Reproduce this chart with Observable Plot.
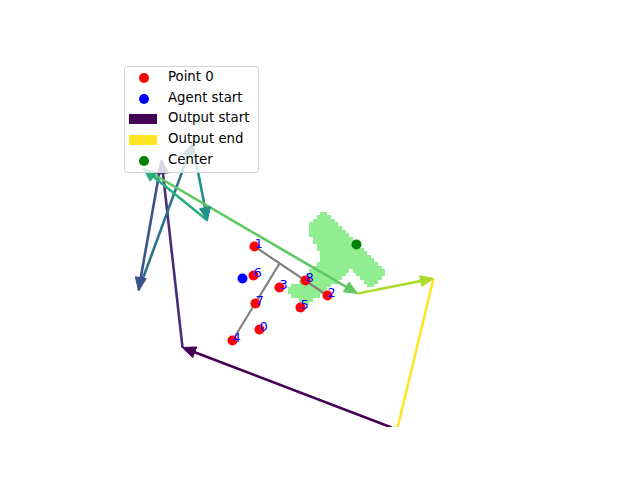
<!DOCTYPE html>
<html>
<head>
<meta charset="utf-8">
<script src="https://cdn.jsdelivr.net/npm/d3@7"></script>
<script src="https://cdn.jsdelivr.net/npm/@observablehq/plot@0.6"></script>
<style>
  body { margin: 0; background: #fff; font-family: "DejaVu Sans", sans-serif; }
  #wrap { position: relative; width: 640px; height: 480px; }
  #legend { position: absolute; left: 124px; top: 66px; width: 133px; height: 105px;
    background: rgba(255,255,255,0.8); border: 1px solid #d3d3d3; border-radius: 3px;
    font-size: 13.3px; color: #000; }
  .row { position: absolute; left: 0; width: 133px; height: 16px; }
  .row .lab { position: absolute; left: 43px; top: -1px; white-space: nowrap; line-height: 16px; }
  .row .dot { position: absolute; left: 14px; top: 3px; width: 10px; height: 10px; border-radius: 50%; }
  .row .patch { position: absolute; left: 4px; top: 3px; width: 28px; height: 10px; }
</style>
</head>
<body>
<div id="wrap">
  <div id="chart"></div>
  <div id="legend"></div>
</div>
<script>
// ---- data (units) ----
const pointIds = [0, 1, 2, 3, 4, 5, 6, 7, 8];
const pointX = [17.9, 17.4, 24.7, 19.9, 15.2, 22.0, 17.3, 17.5, 22.5];
const pointY = [9.8, 18.1, 13.2, 14.0, 8.7, 12.0, 15.2, 12.4, 14.7];

const agentStartX = [16.2];
const agentStartY = [14.9];

const centerX = [27.6];
const centerY = [18.3];

// output path (vertices), coloured start -> end with viridis
const pathX = [31.9, 10.2, 8.1, 5.8, 11.2, 12.7, 6.3, 27.7, 35.3, 31.4];
const pathY = [-0.3, 8.0, 26.7, 13.7, 28.4, 20.7, 25.9, 13.4, 14.9, -1.3];

// gray guide lines
const guideX1 = [17.4, 15.2];
const guideY1 = [18.1, 8.7];
const guideX2 = [24.7, 19.9];
const guideY2 = [13.2, 16.4];

// light-green region outline (rasterized)
const regionX = [24.4, 30.7, 29.0, 27.1, 22.5, 20.6, 24.2, 22.7];
const regionY = [21.8, 15.5, 13.7, 15.7, 12.1, 13.6, 16.9, 20.0];

const legendItems = [
  {label: "Point 0", kind: "dot", color: "red"},
  {label: "Agent start", kind: "dot", color: "blue"},
  {label: "Output start", kind: "patch", color: d3.interpolateViridis(0)},
  {label: "Output end", kind: "patch", color: d3.interpolateViridis(1)},
  {label: "Center", kind: "dot", color: "green"}
];

// ---- derived tables ----
const points = pointIds.map((id, i) => ({id, x: pointX[i], y: pointY[i]}));
const nSeg = pathX.length - 1;
const headUnits = 1.1;
const segs = d3.range(nSeg).map(i => {
  const x1 = pathX[i], y1 = pathY[i], x2 = pathX[i + 1], y2 = pathY[i + 1];
  const dx = x2 - x1, dy = y2 - y1, len = Math.hypot(dx, dy);
  return {
    x1, y1, x2, y2,
    lx2: x2 - dx / len * headUnits, ly2: y2 - dy / len * headUnits,
    angle: Math.atan2(dx, dy) * 180 / Math.PI,
    color: d3.interpolateViridis(i / (nSeg - 1))
  };
});
const guides = guideX1.map((d, i) => ({x1: guideX1[i], y1: guideY1[i], x2: guideX2[i], y2: guideY2[i]}));
const poly = regionX.map((x, i) => [x, regionY[i]]);

const cell = 0.36;
const rx1 = 20.0, rx2 = 31.2, ry1 = 11.5, ry2 = 22.3;

const triangle = {
  draw(context, l) {
    context.moveTo(0, -l);
    context.lineTo(-5.5, 0);
    context.lineTo(5.5, 0);
    context.closePath();
  }
};

const chart = Plot.plot({
  width: 640,
  height: 480,
  marginLeft: 80,
  marginRight: 64,
  marginTop: 58,
  marginBottom: 53,
  x: {domain: [0, 49.6], axis: null},
  y: {domain: [0, 36.9], axis: null},
  color: {type: "identity"},
  style: {background: "#fff", fontFamily: "DejaVu Sans, sans-serif"},
  marks: [
    Plot.raster({
      x1: rx1, x2: rx2, y1: ry1, y2: ry2,
      width: Math.round((rx2 - rx1) / cell),
      height: Math.round((ry2 - ry1) / cell),
      fill: (x, y) => d3.polygonContains(poly, [x, y]) ? "#90ee90" : null,
      imageRendering: "pixelated"
    }),
    Plot.link(guides, {x1: "x1", y1: "y1", x2: "x2", y2: "y2", stroke: "gray", strokeWidth: 2.2}),
    Plot.link(segs, {x1: "x1", y1: "y1", x2: "lx2", y2: "ly2", stroke: "color", strokeWidth: 2.6, clip: true}),
    Plot.vector(segs, {x: "x2", y: "y2", rotate: "angle", length: 13, anchor: "end", shape: triangle,
      fill: "color", stroke: "color", strokeWidth: 1, clip: true}),
    Plot.dot(points, {x: "x", y: "y", r: 5, fill: "red"}),
    Plot.dot(agentStartX.map((x, i) => ({x, y: agentStartY[i]})), {x: "x", y: "y", r: 5, fill: "blue"}),
    Plot.dot(centerX.map((x, i) => ({x, y: centerY[i]})), {x: "x", y: "y", r: 5, fill: "green"}),
    Plot.text(points, {x: "x", y: "y", text: d => String(d.id), textAnchor: "start", lineAnchor: "bottom",
      dy: 1, fill: "blue", fontSize: 13})
  ]
});
document.getElementById("chart").appendChild(chart);

const legend = d3.select("#legend");
legendItems.forEach((d, i) => {
  const row = legend.append("div").attr("class", "row").style("top", (3 + i * 20.7) + "px");
  row.append("div").attr("class", d.kind).style("background", d.color);
  row.append("div").attr("class", "lab").text(d.label);
});
</script>
</body>
</html>
